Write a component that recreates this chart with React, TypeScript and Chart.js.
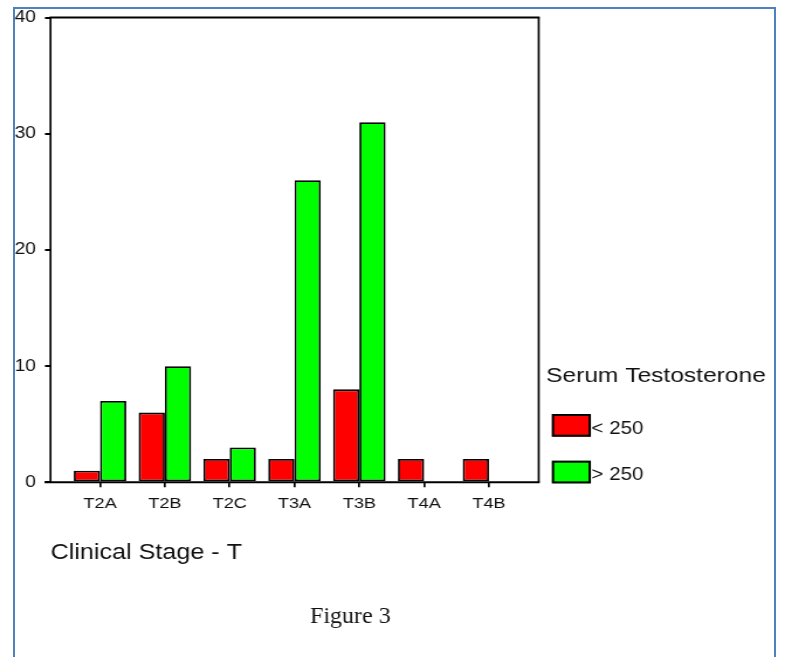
import React, { useEffect, useRef } from 'react';
import { Chart, registerables } from 'chart.js';

Chart.register(...registerables);

// ---- data ----
const categories = ['T2A', 'T2B', 'T2C', 'T3A', 'T3B', 'T4A', 'T4B'];
const below250 = [1, 6, 2, 2, 8, 2, 2];
const above250 = [7, 10, 3, 26, 31, 0, 0];
const seriesLabels = ['< 250', '> 250'];
const seriesColors = ['#ff0000', '#00ff00'];
const yTicks = [0, 10, 20, 30, 40];
const xTitle = 'Clinical Stage - T';
const legendTitle = 'Serum Testosterone';
const caption = 'Figure 3';

// ---- layout (the original picture is stretched horizontally) ----
const PAGE_W = 785;
const PAGE_H = 657;
const CANVAS_W = 671;
const S = PAGE_W / CANVAS_W;
const px = (x: number) => x / S;
const FONT = "'Liberation Sans', Arial, sans-serif";

const PLOT_LEFT = 50.5;
const PLOT_RIGHT = 538.7;
const PLOT_TOP = 15.7;
const PLOT_BOTTOM = 482.3;

const boxPlugin = {
  id: 'plotBox',
  afterDraw(chart: any) {
    const { ctx, chartArea: a } = chart;
    ctx.save();
    ctx.strokeStyle = '#000';
    ctx.lineWidth = 2;
    ctx.beginPath();
    ctx.moveTo(a.left - px(1), a.top);
    ctx.lineTo(a.right + px(1), a.top);
    ctx.moveTo(a.left - px(6), a.bottom);
    ctx.lineTo(a.right + px(1), a.bottom);
    ctx.stroke();
    ctx.lineWidth = px(2);
    ctx.beginPath();
    ctx.moveTo(a.left, a.top);
    ctx.lineTo(a.left, a.bottom);
    ctx.moveTo(a.right, a.top);
    ctx.lineTo(a.right, a.bottom);
    ctx.stroke();
    ctx.restore();
  },
};

const legendPlugin = {
  id: 'sideLegend',
  afterDraw(chart: any) {
    const ctx = chart.ctx;
    ctx.save();
    ctx.fillStyle = '#111';
    ctx.textAlign = 'left';
    ctx.textBaseline = 'alphabetic';
    ctx.font = `21px ${FONT}`;
    ctx.fillText(legendTitle, px(546), 382);
    chart.data.datasets.forEach((ds: any, i: number) => {
      const y0 = 414 + i * 46.7;
      ctx.fillStyle = ds.backgroundColor;
      ctx.fillRect(px(552), y0, px(38.7), 22.7);
      ctx.strokeStyle = '#000';
      ctx.lineWidth = 2;
      ctx.strokeRect(px(553), y0 + 1, px(36.7), 20.7);
      ctx.fillStyle = '#111';
      ctx.font = `17.5px ${FONT}`;
      ctx.textBaseline = 'middle';
      ctx.fillText(ds.label, px(591.5), y0 + 14.8);
      ctx.textBaseline = 'alphabetic';
    });
    ctx.restore();
  },
};

const captionPlugin = {
  id: 'caption',
  afterDraw(chart: any) {
    const ctx = chart.ctx;
    ctx.save();
    ctx.scale(1 / S, 1);
    ctx.fillStyle = '#111';
    ctx.font = `24px 'Liberation Serif', 'Times New Roman', serif`;
    ctx.textAlign = 'left';
    ctx.textBaseline = 'alphabetic';
    ctx.fillText(caption, 310, 623.3);
    ctx.restore();
  },
};

export default function App() {
  const ref = useRef<HTMLCanvasElement>(null);

  useEffect(() => {
    const canvas = ref.current;
    if (!canvas) return;
    const chart = new Chart(canvas, {
      type: 'bar',
      data: {
        datasets: [
          {
            label: seriesLabels[0],
            data: below250.map((v, i) => ({ x: i, y: v })),
            backgroundColor: seriesColors[0],
            borderColor: '#000',
            borderWidth: 1.8,
            borderSkipped: false,
          },
          {
            label: seriesLabels[1],
            data: above250.map((v, i) => ({ x: i, y: v })),
            backgroundColor: seriesColors[1],
            borderColor: '#000',
            borderWidth: 1.8,
            borderSkipped: false,
          },
        ],
      },
      options: {
        animation: false,
        responsive: false,
        devicePixelRatio: 1,
        layout: {
          padding: { left: 0, right: CANVAS_W - px(PLOT_RIGHT), top: PLOT_TOP, bottom: 0 },
        },
        datasets: {
          bar: { categoryPercentage: 0.81, barPercentage: 1 },
        },
        scales: {
          x: {
            type: 'linear',
            min: -0.764,
            max: 6.767,
            offset: false,
            afterBuildTicks: (s: any) => {
              s.ticks = categories.map((_, i) => ({ value: i }));
            },
            afterFit: (s: any) => {
              s.height = PAGE_H - PLOT_BOTTOM;
            },
            ticks: {
              callback: (v: any) => categories[v as number] ?? '',
              autoSkip: false,
              maxRotation: 0,
              minRotation: 0,
              padding: 7.4,
              color: '#111',
              font: { family: FONT, size: 15.5 },
            },
            grid: {
              display: true,
              offset: false,
              drawOnChartArea: false,
              drawTicks: true,
              tickLength: 5,
              color: '#000',
              lineWidth: 1.7,
            },
            border: { display: false },
            title: {
              display: true,
              text: xTitle,
              align: 'start',
              color: '#111',
              font: { family: FONT, size: 21.5 },
              padding: { top: 0, bottom: 90.8 },
            },
          },
          y: {
            type: 'linear',
            min: 0,
            max: 40,
            afterBuildTicks: (s: any) => {
              s.ticks = yTicks.map((v) => ({ value: v }));
            },
            afterFit: (s: any) => {
              s.width = px(PLOT_LEFT);
            },
            ticks: {
              padding: 7.7,
              color: '#111',
              font: { family: FONT, size: 16.5 },
            },
            grid: {
              display: true,
              offset: false,
              drawOnChartArea: false,
              drawTicks: true,
              tickLength: px(5.5),
              color: '#000',
              lineWidth: 2,
            },
            border: { display: false },
          },
        },
        plugins: {
          legend: { display: false },
          tooltip: { enabled: false },
        },
      } as any,
      plugins: [boxPlugin, legendPlugin, captionPlugin],
    });
    return () => chart.destroy();
  }, []);

  return (
    <div
      style={{
        position: 'fixed',
        left: 0,
        top: 0,
        width: PAGE_W,
        height: PAGE_H,
        overflow: 'hidden',
        background: '#fff',
      }}
    >
      <div
        style={{
          position: 'absolute',
          left: 13,
          top: 6.5,
          width: 763,
          height: 720,
          boxSizing: 'border-box',
          borderTop: '2.5px solid #4f81bd',
          borderLeft: '2px solid #4f81bd',
          borderRight: '2.5px solid #4f81bd',
        }}
      />
      <canvas
        ref={ref}
        width={CANVAS_W}
        height={PAGE_H}
        style={{
          position: 'absolute',
          left: 0,
          top: 0,
          width: `${PAGE_W}px`,
          height: `${PAGE_H}px`,
        }}
      />
    </div>
  );
}
